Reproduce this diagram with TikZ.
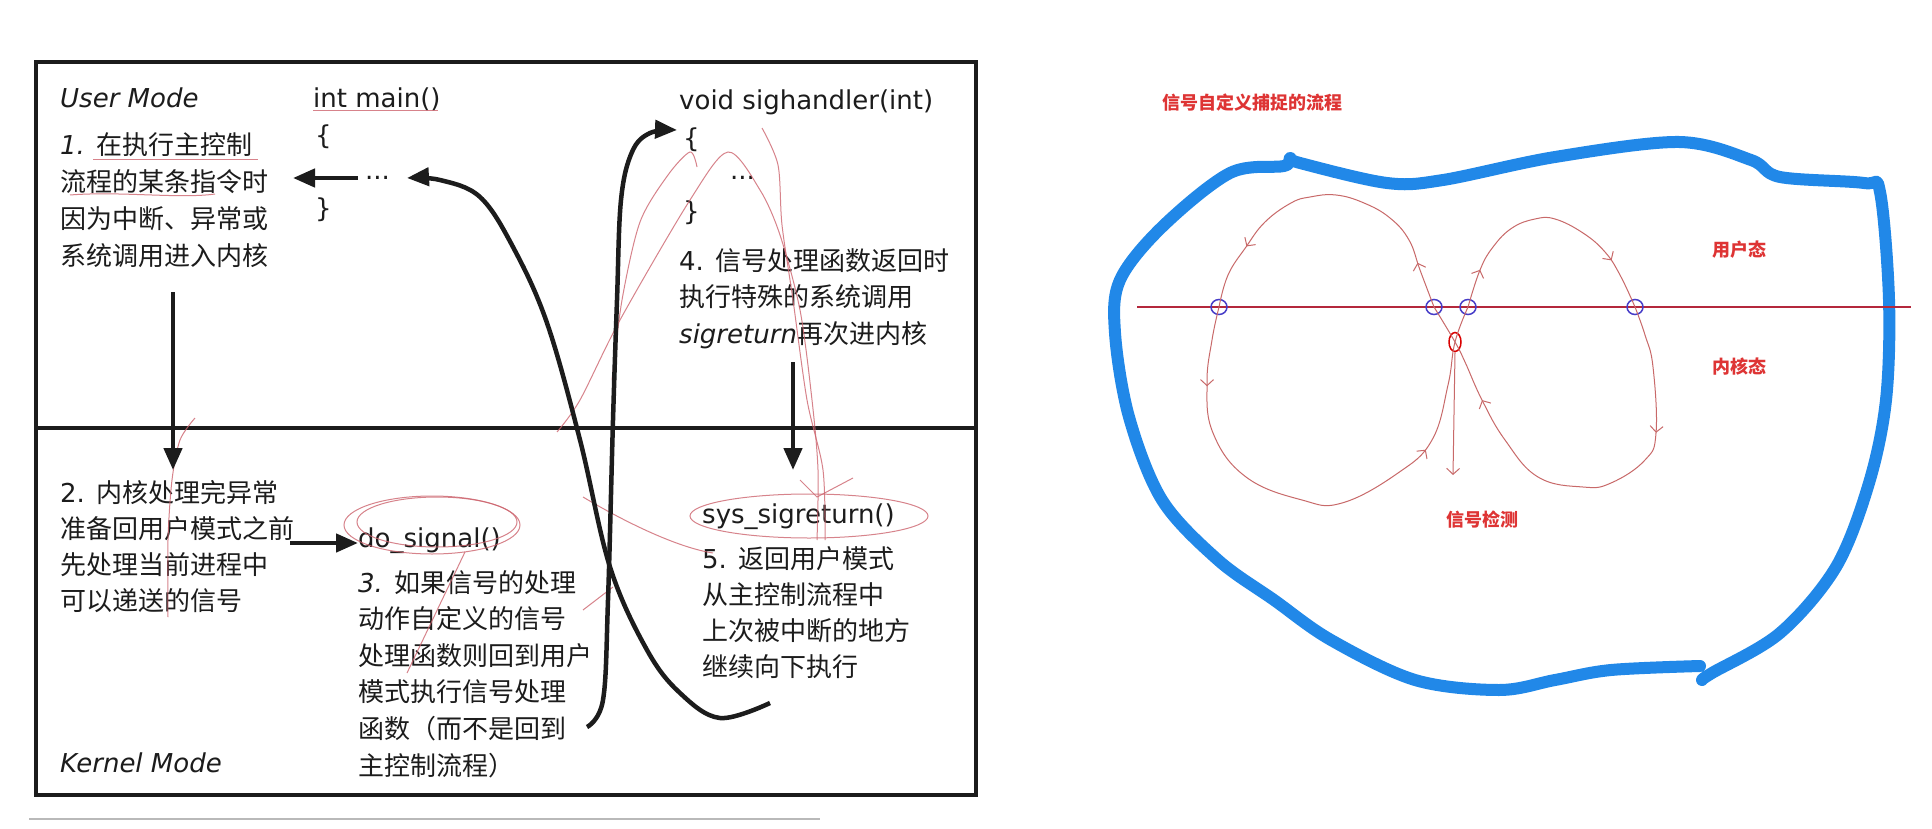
\documentclass[tikz,border=0pt]{standalone}
\usepackage{fontspec}
\setmainfont{DejaVu Sans}
\newfontfamily\cjk{Noto Sans CJK SC}
\usetikzlibrary{arrows.meta,decorations.markings,shapes.geometric}
\definecolor{ink}{RGB}{28,28,28}
\definecolor{anno}{RGB}{205,100,110}
\definecolor{redtxt}{RGB}{222,52,52}
\definecolor{axis}{RGB}{180,40,60}
\definecolor{circblue}{RGB}{70,60,200}
\definecolor{loopred}{RGB}{200,105,105}
\definecolor{pen}{RGB}{33,136,232}
\newcommand\zh[1]{{\cjk #1}}
\newcommand\lines[2]{{\fontsize{26}{#1}\selectfont\begin{tabular}[t]{@{}l@{}}#2\end{tabular}}}
\begin{document}
\begin{tikzpicture}[x=1pt,y=-1pt,
  txt/.style={inner sep=0pt, anchor=base west, font=\fontsize{26}{36.6}\selectfont, text=ink},
  bigarrow/.style={line width=4.5pt, draw=ink, -{Triangle[length=22pt,width=18pt]}},
  frame/.style={line width=4pt, draw=ink},
  annoline/.style={draw=anno, line width=1pt, opacity=.8},
  redlabel/.style={text=redtxt, font=\cjk\bfseries\fontsize{18}{20}\selectfont, inner sep=0pt, anchor=west},
  bcirc/.style={ellipse, draw=circblue, line width=1.5pt, minimum width=16pt, minimum height=15pt, inner sep=0pt},
  rell/.style={ellipse, draw=red!85!black, line width=1.5pt, minimum width=12pt, minimum height=19pt, inner sep=0pt},
  thinloop/.style={draw=loopred, line width=1pt},
  twoarr/.style 2 args={postaction={decorate}, decoration={markings,
     mark=at position #1 with {\arrow{Straight Barb[length=6pt,width=13pt]}},
     mark=at position #2 with {\arrow{Straight Barb[length=6pt,width=13pt]}}}},
  blueline/.style={draw=pen, line width=12pt, line cap=round, line join=round}
]
\useasboundingbox (0,0) rectangle (1932,829);
\fill[white] (0,0) rectangle (1932,829);

% ---------------- left diagram ----------------
\draw[frame] (36,62) rectangle (976,795);
\draw[frame] (36,428) -- (976,428);
\draw[gray!55, line width=1.5pt] (29,819) -- (820,819);

\node[txt] (um) at (60,108) {\textit{User Mode}};
\node[txt] (km) at (60,772) {\textit{Kernel Mode}};

\node[txt] (mainhdr) at (313,108) {int main()};
\node[txt] (mob) at (315,145) {\{};
\node[txt, inner xsep=7pt] (mainDots) at (358,180) {...};
\node[txt] (mcb) at (315,218) {\}};

\node[txt] (sigh) at (679,110) {void sighandler(int)};
\node[txt] (sob) at (683,148) {\{};
\node[txt] (sDots) at (730,180) {...};
\node[txt] (scb) at (683,220) {\}};

\node[txt] (b1) at (60,155) {\lines{36.7}{\textit{1.} \zh{在执行主控制}\\ \zh{流程的某条指令时}\\ \zh{因为中断、异常或}\\ \zh{系统调用进入内核}}};
\node[txt] (b2) at (60,502) {\lines{36}{2. \zh{内核处理完异常}\\ \zh{准备回用户模式之前}\\ \zh{先处理当前进程中}\\ \zh{可以递送的信号}}};
\node[txt] (dosig) at (358,547) {do\_signal()};
\node[txt] (b3) at (358,592) {\lines{36.6}{\textit{3.} \zh{如果信号的处理}\\ \zh{动作自定义的信号}\\ \zh{处理函数则回到用户}\\ \zh{模式执行信号处理}\\ \zh{函数（而不是回到}\\ \zh{主控制流程）}}};
\node[txt] (b4) at (679,270) {\lines{36.5}{4. \zh{信号处理函数返回时}\\ \zh{执行特殊的系统调用}\\ \textit{sigreturn}\zh{再次进内核}}};
\node[txt] (sysret) at (702,523) {sys\_sigreturn()};
\node[txt] (b5) at (702,568) {\lines{36.3}{5. \zh{返回用户模式}\\ \zh{从主控制流程中}\\ \zh{上次被中断的地方}\\ \zh{继续向下执行}}};

% hand-drawn annotations
\draw[annoline] (313,111) -- (438,111);
\draw[annoline] (93,160) -- (258,160);
\draw[annoline] (70,195) .. controls (120,191) and (180,199) .. (215,194);
\draw[annoline] plot[smooth] coordinates {(195,418) (180,440) (172,480) (168,540) (168,617)};
\draw[annoline] (432,525) ellipse [x radius=88pt, y radius=29pt];
\draw[annoline] (437,522) ellipse [x radius=80pt, y radius=25pt];
\draw[annoline] (465,552) -- (407,673);
\draw[annoline] (809,516) ellipse [x radius=119pt, y radius=22pt];
\draw[annoline] (583,497) .. controls (630,525) and (680,548) .. (713,553);
\draw[annoline] (583,610) -- (613,587);
\draw[annoline] plot[smooth] coordinates {(557,432) (580,400) (620,320) (690,200) (728,152) (760,190) (780,235) (800,310) (812,400) (818,470) (817,540)};
\draw[annoline] plot[smooth] coordinates {(612,380) (622,300) (640,222) (668,175) (690,152) (697,167)};
\draw[annoline] plot[smooth] coordinates {(762,128) (778,165) (782,225) (793,300) (807,400) (823,470) (825,540)};
\draw[annoline] (800,480) -- (817,497) -- (853,478);

% black arrows
\coordinate (a1e) at (293,178);
\draw[bigarrow] (mainDots.west |- a1e) -- (a1e);
\coordinate (a2s) at (173,292);
\coordinate (a2e) at (173,470);
\draw[bigarrow] (a2s) -- (a2e);
\coordinate (a3s) at (290,543);
\draw[bigarrow] (a3s) -- (a3s -| dosig.west);
\coordinate (a4s) at (793,362);
\coordinate (a4e) at (793,470);
\draw[bigarrow] (a4s) -- (a4e);
\coordinate (retS) at (770,703);
\coordinate (retE) at (407,178);
\draw[bigarrow] plot[smooth, tension=0.6] coordinates {(retS) (720,718) (680,693) (647,650) (610,567) (580,440) (547,323) (513,247) (480,197) (440,180) (retE)};
\coordinate (hS) at (587,727);
\coordinate (hE) at (677,130);
\draw[bigarrow] plot[smooth, tension=0.6] coordinates {(hS) (603,700) (608,600) (613,420) (617,300) (621,200) (632,152) (650,133) (hE)};

% ---------------- right diagram ----------------
\draw[blueline] plot[smooth, tension=0.55] coordinates {(1700,666) (1611,670) (1555,680) (1499,690) (1415,680) (1331,640) (1274,600) (1218,560) (1162,500) (1129,417) (1115,333) (1120,280) (1162,227) (1230,173) (1284,166) (1290,158) (1300,163) (1387,183) (1443,180) (1555,157) (1679,142) (1751,160) (1780,177) (1864,183) (1880,192) (1889,300) (1886,400) (1869,483) (1836,567) (1780,633) (1712,673) (1702,680)};

\node[redlabel] (ttl) at (1162,103) {信号自定义捕捉的流程};
\node[redlabel] (ulab) at (1712,250) {用户态};
\node[redlabel] (klab) at (1712,367) {内核态};
\node[redlabel] (dlab) at (1446,520) {信号检测};

\coordinate (axL) at (1137,307);
\coordinate (axR) at (1911,307);
\draw[draw=axis, line width=2pt] (axL) -- (axR);

\node[bcirc] (c1) at (1219,307) {};
\node[bcirc] (c2) at (1434,307) {};
\node[bcirc] (c3) at (1468,307) {};
\node[bcirc] (c4) at (1635,307) {};
\node[rell] (det) at (1455,342) {};

\draw[thinloop, twoarr={0.15}{0.72}] plot[smooth, tension=0.7] coordinates {(c1.center) (1212,340) (1207,383) (1213,433) (1246,477) (1302,500) (1342,503) (1398,473) (1432,440) (1448,385) (det.center) (c3.center)};
\draw[thinloop, twoarr={0.15}{0.8}] plot[smooth, tension=0.7] coordinates {(c3.center) (1480,270) (1493,247) (1512,228) (1535,219) (1555,219) (1583,233) (1605,252) (1620,275) (c4.center)};
\draw[thinloop, twoarr={0.27}{0.78}] plot[smooth, tension=0.7] coordinates {(c4.center) (1645,335) (1653,367) (1656,433) (1645,460) (1611,483) (1583,487) (1538,477) (1505,440) (1482,400) (1465,362) (det.center) (c2.center)};
\draw[thinloop, twoarr={0.14}{0.8}] plot[smooth, tension=0.7] coordinates {(c2.center) (1420,270) (1409,240) (1390,218) (1364,203) (1336,195) (1310,197) (1291,203) (1265,222) (1246,247) (1228,275) (c1.center)};
\coordinate (detE) at (1453,475);
\draw[thinloop, -{Straight Barb[length=6pt,width=13pt]}] (det.south) -- (detE);
\end{tikzpicture}
\end{document}
